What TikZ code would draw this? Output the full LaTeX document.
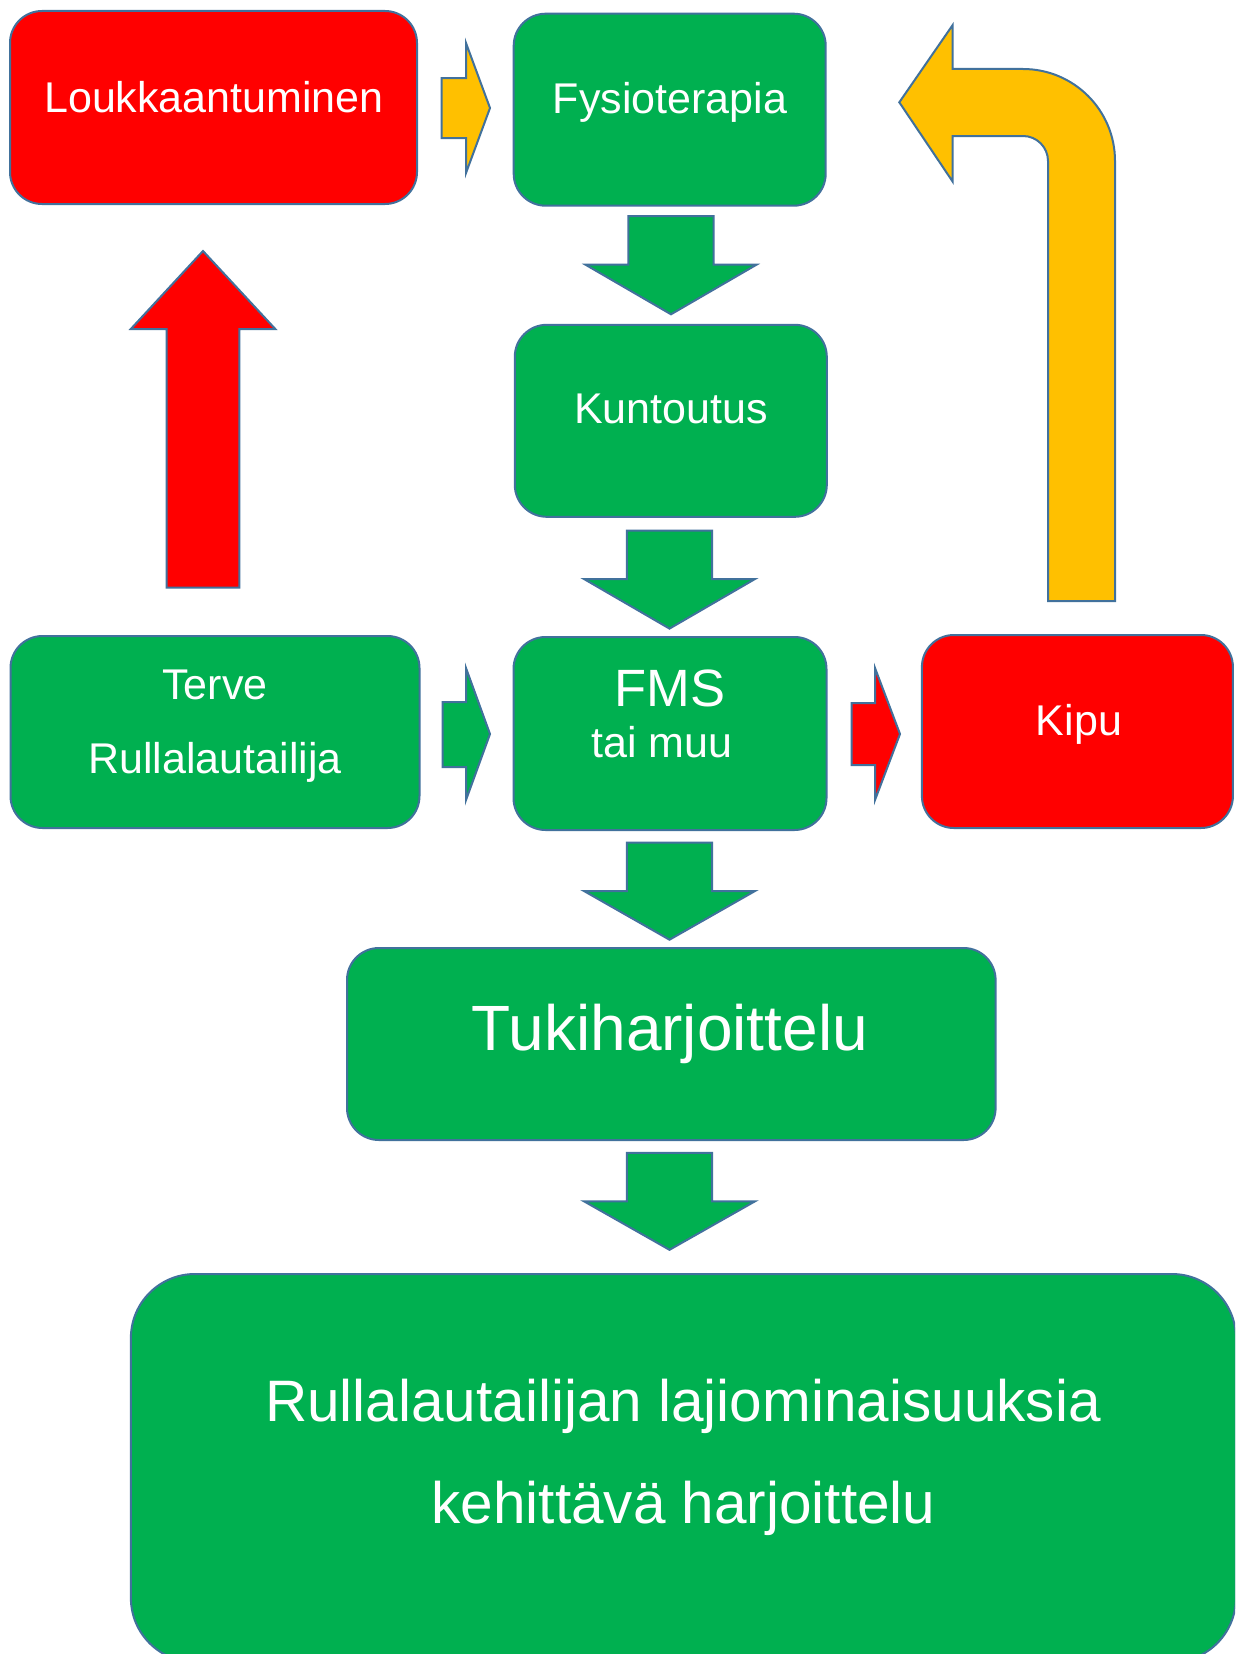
\documentclass[tikz,border=0pt]{standalone}
\usepackage{fontspec}
\setmainfont{Liberation Sans}
\definecolor{cred}{HTML}{FF0000}
\definecolor{cgreen}{HTML}{00B050}
\definecolor{cyellow}{HTML}{FFC000}
\definecolor{cedge}{HTML}{41719C}
\newcommand{\BlockDown}[4]{% cx, top, base, tip
  \draw[arrowshape, fill=cgreen] ({#1-42.7},#2) -- ({#1+42.7},#2) -- ({#1+42.7},#3) -- ({#1+85.5},#3) -- (#1,#4) -- ({#1-85.5},#3) -- ({#1-42.7},#3) -- cycle;}
\begin{document}
\begin{tikzpicture}[x=1pt,y=-1pt,
  box/.style={draw=cedge, line width=2pt, rounded corners=32pt, inner sep=0pt},
  arrowshape/.style={draw=cedge, line width=2pt, line join=miter},
  txt/.style={text=white, inner sep=0pt, anchor=base, font=\fontsize{43}{50}\selectfont},
  bigtxt/.style={txt, font=\fontsize{52.5}{60}\selectfont},
  hugetxt/.style={txt, font=\fontsize{64}{72}\selectfont},
  bottxt/.style={txt, font=\fontsize{58.5}{66}\selectfont}]
\useasboundingbox (0,0) rectangle (1235,1654);
\fill[white] (0,0) rectangle (1235,1654);

% boxes
\node[box, fill=cred, minimum width=407pt, minimum height=193pt] (louk) at (213.5,107.5) {};
\node[box, fill=cgreen, minimum width=312pt, minimum height=192pt] (fysio) at (669.7,109.7) {};
\node[box, fill=cgreen, minimum width=312pt, minimum height=192pt] (kunt) at (670.8,420.8) {};
\node[box, fill=cgreen, minimum width=409pt, minimum height=192pt] (terve) at (215,732) {};
\node[box, fill=cgreen, minimum width=313pt, minimum height=193pt] (fms) at (670,733.5) {};
\node[box, fill=cred, minimum width=311pt, minimum height=193pt] (kipu) at (1077.4,731.5) {};
\node[box, fill=cgreen, minimum width=648.6pt, minimum height=192pt] (tuki) at (671.3,1044) {};
\begin{scope}
\clip (0,0) rectangle (1235,1654);
\node[box, rounded corners=64pt, fill=cgreen, minimum width=1105pt, minimum height=388pt] (lajit) at (683.4,1468) {};
\end{scope}

% texts
\node[txt] (louktxt) at (214,112) {Loukkaantuminen};
\node[txt] (fysiotxt) at (670,113) {Fysioterapia};
\node[txt] (kunttxt) at (671,423) {Kuntoutus};
\node[txt] (tervetxt) at (215,699) {Terve};
\node[txt] (rullatxt) at (215,773) {Rullalautailija};
\node[bigtxt] (fmstxt) at (670,706) {FMS};
\node[txt] (muutxt) at (662,757) {tai muu};
\node[txt] (kiputxt) at (1079,735) {Kipu};
\node[hugetxt] (tukitxt) at (670,1050) {Tukiharjoittelu};
\node[bottxt] (lajitxt) at (683,1421) {Rullalautailijan lajiominaisuuksia};
\node[bottxt] (kehitxt) at (683.5,1523) {kehittävä harjoittelu};

% right block arrows
\draw[arrowshape, fill=cyellow] (441.7,78) -- (466,78) -- (466,43) -- (490,108) -- (466,173) -- (466,138) -- (441.7,138) -- cycle;
\draw[arrowshape, fill=cgreen] (442.7,702) -- (466,702) -- (466,668) -- (490,734) -- (466,800) -- (466,767) -- (442.7,767) -- cycle;
\draw[arrowshape, fill=cred] (851.7,703) -- (875,703) -- (875,668) -- (900,734) -- (875,800) -- (875,765) -- (851.7,765) -- cycle;

% down block arrows
\BlockDown{671}{216}{264.7}{314.3}
\BlockDown{669.5}{530.5}{579}{628.6}
\BlockDown{669.5}{842.7}{891}{939.7}
\BlockDown{669.5}{1152.8}{1201.3}{1249.8}

% up red arrow
\draw[arrowshape, fill=cred] (166.6,587.5) -- (166.6,329) -- (130.8,329) -- (203,251) -- (275.3,329) -- (239.4,329) -- (239.4,587.5) -- cycle;

% U-turn yellow arrow
\draw[arrowshape, fill=cyellow] (899.3,102.3) -- (952.7,25) -- (952.7,69) -- (1023,69)
  .. controls (1073.8,69) and (1115,110.2) .. (1115,161) -- (1115,601) -- (1048,601) -- (1048,161)
  .. controls (1048,147.2) and (1036.8,136) .. (1023,136) -- (952.7,136) -- (952.7,181.7) -- cycle;
\end{tikzpicture}
\end{document}
